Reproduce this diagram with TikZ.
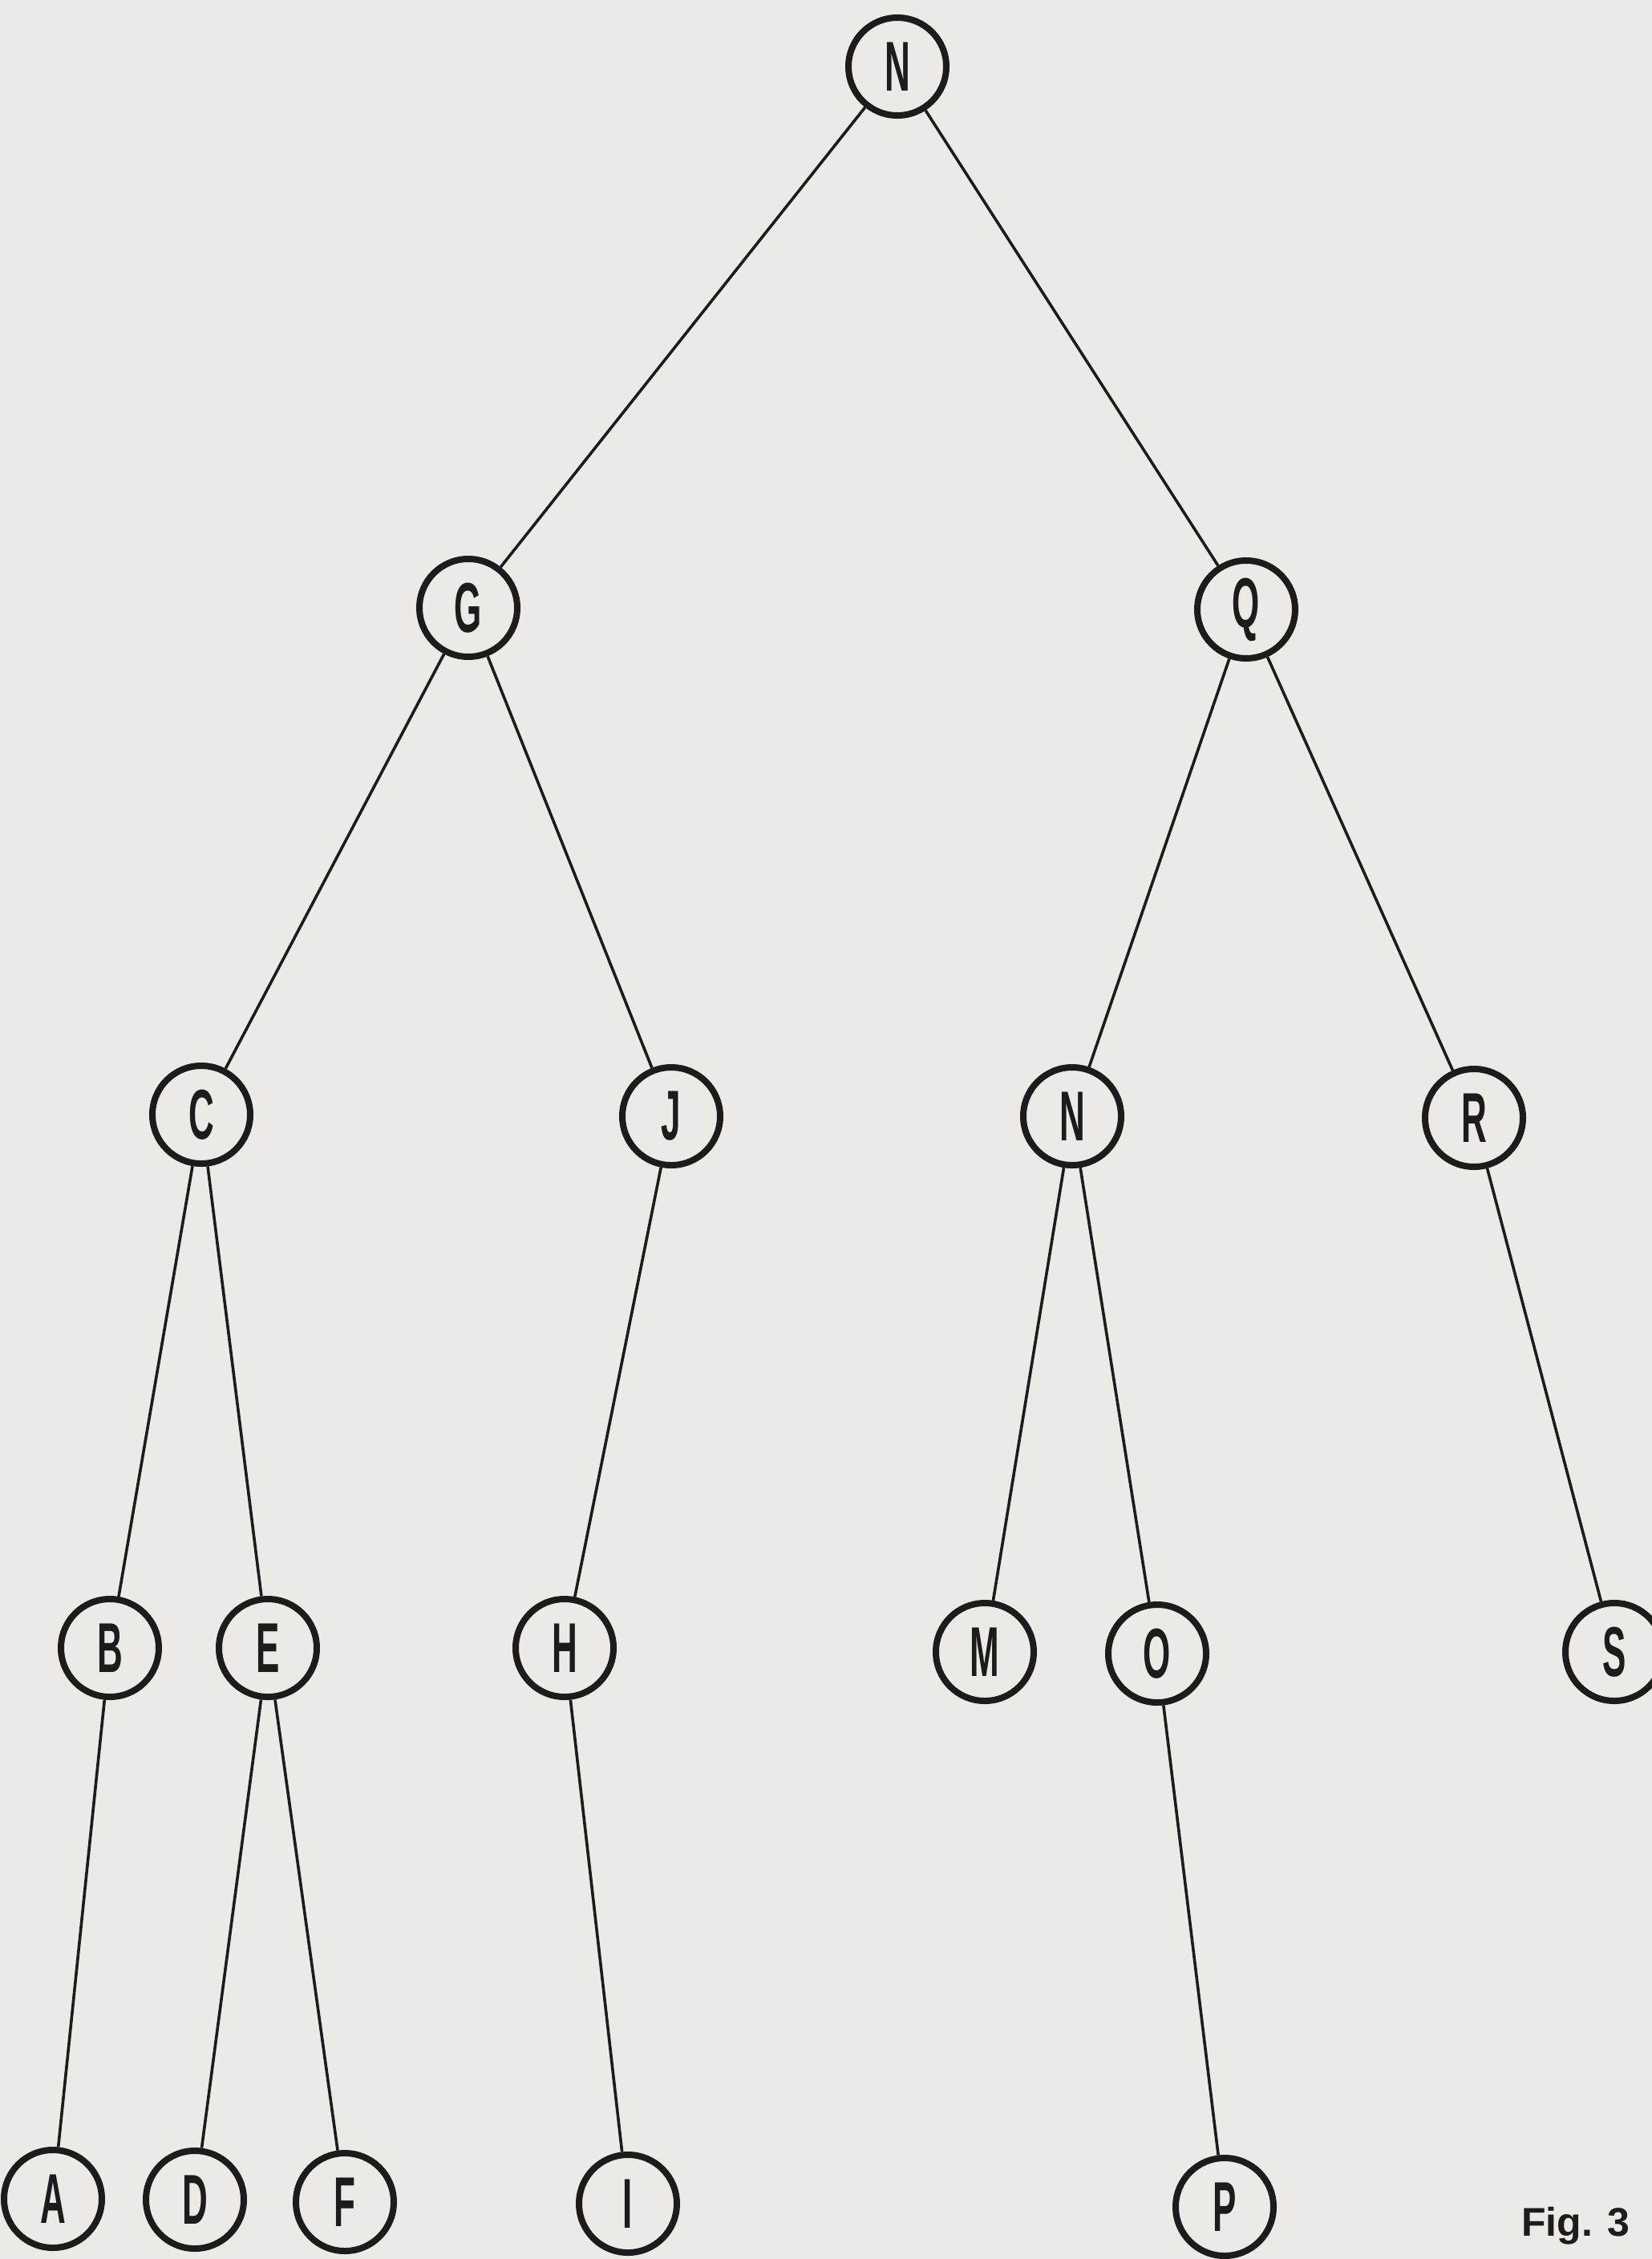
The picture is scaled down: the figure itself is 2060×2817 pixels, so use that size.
\documentclass[tikz,border=0pt]{standalone}
\usepackage{fontspec}
\setmainfont{Liberation Sans}
\definecolor{paper}{RGB}{236,234,231}
\definecolor{ink}{RGB}{28,28,28}
\begin{document}
\begin{tikzpicture}[x=0.5pt,y=-0.5pt,
  vertex/.style={circle,draw=ink,line width=4pt,minimum size=61pt,inner sep=0pt,fill=paper,
    font=\fontsize{44}{44}\selectfont\bfseries,text=ink},
  edge/.style={draw=ink,line width=1.8pt}]
\fill[paper] (0,0) rectangle (2060,2817);
\useasboundingbox (0,0) rectangle (2060,2817);
\newcommand{\lbl}[1]{\scalebox{0.5}[1]{#1}}
\node[vertex] (N1) at (1119,83) {\lbl{N}};
\node[vertex] (G) at (584,758) {\lbl{G}};
\node[vertex] (Q) at (1554,760) {\lbl{Q}};
\node[vertex] (C) at (251,1390) {\lbl{C}};
\node[vertex] (J) at (837,1392) {\lbl{J}};
\node[vertex] (N2) at (1337,1392) {\lbl{N}};
\node[vertex] (R) at (1838,1394) {\lbl{R}};
\node[vertex] (B) at (137,2055) {\lbl{B}};
\node[vertex] (E) at (334,2055) {\lbl{E}};
\node[vertex] (H) at (704,2055) {\lbl{H}};
\node[vertex] (M) at (1228,2060) {\lbl{M}};
\node[vertex] (O) at (1443,2062) {\lbl{O}};
\node[vertex] (S) at (2013,2060) {\lbl{S}};
\node[vertex] (A) at (66,2742) {\lbl{A}};
\node[vertex] (D) at (243,2743) {\lbl{D}};
\node[vertex] (F) at (430,2746) {\lbl{F}};
\node[vertex] (I) at (783,2748) {\lbl{I}};
\node[vertex] (P) at (1527,2752) {\lbl{P}};
\path[edge] (N1) -- (G) (N1) -- (Q)
  (G) -- (C) (G) -- (J) (Q) -- (N2) (Q) -- (R)
  (C) -- (B) (C) -- (E) (J) -- (H) (N2) -- (M) (N2) -- (O) (R) -- (S)
  (B) -- (A) (E) -- (D) (E) -- (F) (H) -- (I) (O) -- (P);
\node[anchor=base,font=\fontsize{25}{25}\selectfont\bfseries,text=ink,inner sep=0pt] (fig) at (1965,2788) {Fig. 3};
\end{tikzpicture}
\end{document}
